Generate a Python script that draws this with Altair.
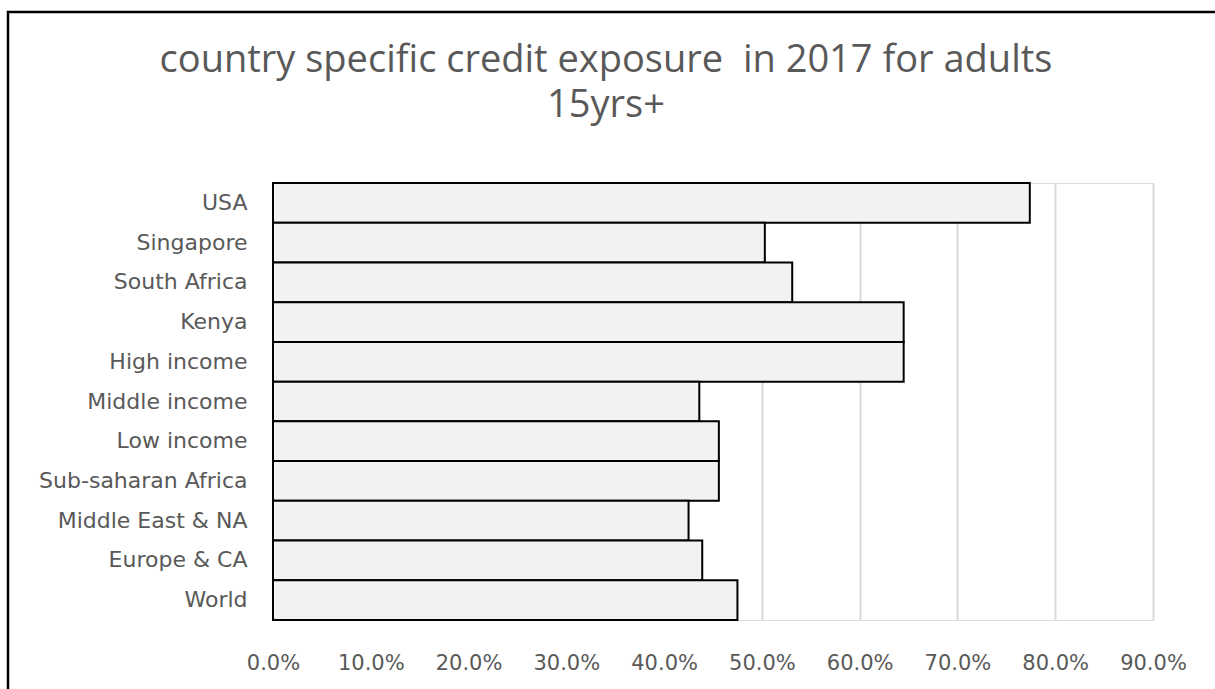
import altair as alt
import pandas as pd

categories = ["USA", "Singapore", "South Africa", "Kenya", "High income", "Middle income",
              "Low income", "Sub-saharan Africa", "Middle East & NA", "Europe & CA", "World"]
values = [0.774, 0.503, 0.531, 0.645, 0.645, 0.436, 0.456, 0.456, 0.425, 0.439, 0.475]
x_ticks = [0.0, 0.1, 0.2, 0.3, 0.4, 0.5, 0.6, 0.7, 0.8, 0.9]
title_lines = "country specific credit exposure \u00a0in 2017 for adults\n15yrs+"

df = pd.DataFrame({"category": categories, "value": values})
one = pd.DataFrame({"k": [0]})

FONT = "DejaVu Sans"
TFONT = "Open Sans"
GRAY = "#595959"
W, H = 880, 437
PAD_L, PAD_T = 273, 183
PAD_R, PAD_B = 1215 - PAD_L - W, 689 - PAD_T - H

bars = alt.Chart(df).mark_bar(fill="#f2f2f2", stroke="black", strokeWidth=2).encode(
    x=alt.X("value:Q", scale=alt.Scale(domain=[0, 0.9], nice=False),
            axis=alt.Axis(values=x_ticks, format=".1%", title=None, domain=False, ticks=False,
                          grid=True, gridColor="#d9d9d9", gridWidth=2, labelFlush=False,
                          labelFont=FONT, labelFontSize=21, labelColor=GRAY, labelPadding=32)),
    y=alt.Y("category:N", sort=categories, scale=alt.Scale(paddingInner=0, paddingOuter=0),
            axis=alt.Axis(title=None, domain=True, domainColor="#d9d9d9", ticks=False,
                          labelFont=FONT, labelFontSize=22, labelColor=GRAY, labelPadding=26,
                          labelLimit=300)),
)

frame = alt.Chart(one).mark_rect(fill=None, stroke="black", strokeWidth=2.5).encode(
    x=alt.value(8 - PAD_L), x2=alt.value(1230 - PAD_L),
    y=alt.value(12 - PAD_T), y2=alt.value(700 - PAD_T),
)

title = alt.Chart(one).mark_text(
    font=TFONT, fontSize=38, color=GRAY, align="center", baseline="middle",
    lineBreak="\n", lineHeight=45,
).encode(
    x=alt.value(606 - PAD_L), y=alt.value(61 - PAD_T),
    text=alt.value(title_lines),
)

chart = alt.layer(bars, frame, title).properties(
    width=W, height=H,
    autosize=alt.AutoSizeParams(type="none"),
    padding={"left": PAD_L, "top": PAD_T, "right": PAD_R, "bottom": PAD_B},
).configure_view(stroke=None).configure(background="white")

chart.save("out.html", embed_options={"renderer": "svg", "actions": False})
